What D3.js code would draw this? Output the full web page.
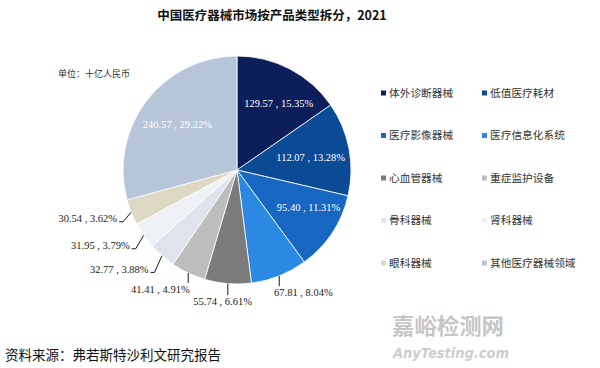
<!DOCTYPE html>
<html>
<head>
<meta charset="utf-8">
<script src="https://cdn.jsdelivr.net/npm/d3@7"></script>
<style>
  body { margin: 0; background: #fff; }
  text { font-family: "Liberation Serif", "Noto Sans CJK SC", serif; }
  .cjk { font-family: "Noto Sans CJK SC", sans-serif; }
  .wm { font-family: "DejaVu Sans", sans-serif; font-style: italic; font-weight: bold; }
</style>
</head>
<body>
<svg id="chart" width="600" height="368"></svg>
<script>
// values (十亿人民币)
var categories = ["体外诊断器械", "低值医疗耗材", "医疗影像器械", "医疗信息化系统", "心血管器械",
                  "重症监护设备", "骨科器械", "肾科器械", "眼科器械", "其他医疗器械领域"];
var values = [129.57, 112.07, 95.40, 67.81, 55.74, 41.41, 32.77, 31.95, 30.54, 246.57];
var percents = [15.35, 13.28, 11.31, 8.04, 6.61, 4.91, 3.88, 3.79, 3.62, 29.22];
var colors = ["#0d1f5a", "#0b4a94", "#1666c2", "#2b89e4", "#7b7b7b",
              "#bdbdbd", "#dfe4ec", "#eef2f6", "#dcd8c2", "#b7c5d8"];

var svg = d3.select("#chart");

svg.append("text").attr("class", "cjk")
    .attr("x", 272).attr("y", 20)
    .attr("text-anchor", "middle")
    .attr("font-size", 12.5).attr("font-weight", "bold").attr("fill", "#111")
    .text("中国医疗器械市场按产品类型拆分，2021");

svg.append("text").attr("class", "cjk")
    .attr("x", 58).attr("y", 77)
    .attr("font-size", 9).attr("fill", "#333")
    .text("单位：十亿人民币");

var cx = 237, cy = 170, radius = 114;
var g = svg.append("g").attr("transform", "translate(" + cx + "," + cy + ")");

var data = values.map(function (v, i) { return { name: categories[i], value: v, pct: percents[i] }; });
var pie = d3.pie().sort(null).value(function (d) { return d.value; });
var arcs = pie(data);
var arc = d3.arc().innerRadius(0).outerRadius(radius);

g.selectAll("path.slice").data(arcs).join("path")
    .attr("class", "slice")
    .attr("d", arc)
    .attr("fill", function (d, i) { return colors[i]; })
    .attr("stroke", "#fff")
    .attr("stroke-width", 0.8);

// is a point (relative to pie centre) inside slice a, at least m px from its straight edges?
function insideSlice(a, px, py, m) {
    var d = Math.sqrt(px * px + py * py);
    if (d > radius - 1) return false;
    var ang = Math.atan2(px, -py);
    if (ang < 0) ang += 2 * Math.PI;
    if (ang < a.startAngle || ang > a.endAngle) return false;
    var d1 = d * Math.sin(Math.min(ang - a.startAngle, Math.PI / 2));
    var d2 = d * Math.sin(Math.min(a.endAngle - ang, Math.PI / 2));
    return d1 >= m && d2 >= m;
}

var offsets = [];
for (var dx = -25; dx <= 25; dx++) for (var dy = -15; dy <= 15; dy++) offsets.push([dx, dy]);
offsets.sort(function (p, q) { return (p[0] * p[0] + p[1] * p[1]) - (q[0] * q[0] + q[1] * q[1]); });

arcs.forEach(function (a, i) {
    var mid = (a.startAngle + a.endAngle) / 2;
    var s = Math.sin(mid), c = -Math.cos(mid);
    var label = a.data.value.toFixed(2) + " , " + a.data.pct.toFixed(2) + "%";

    if (a.data.pct > 10) {
        var ti = g.append("text")
            .attr("dy", "0.35em")
            .attr("text-anchor", "middle")
            .attr("font-size", 10.5).attr("fill", "#fff")
            .text(label);
        var w2 = ti.node().getComputedTextLength() / 2, h2 = 5;
        var lx = s * 75, ly = c * 75;
        // nudge the label so that its box stays clear of the slice edges
        for (var k = 0; k < offsets.length; k++) {
            var x0 = lx + offsets[k][0], y0 = ly + offsets[k][1];
            var ok = [[-w2, -h2], [w2, -h2], [-w2, h2], [w2, h2]].every(function (p) {
                return insideSlice(a, x0 + p[0], y0 + p[1], 7);
            });
            if (ok) { lx = x0; ly = y0; break; }
        }
        ti.attr("x", lx).attr("y", ly);
        return;
    }

    // outside label with leader line
    var ex = s * radius, ey = c * radius;
    var t = g.append("text")
        .attr("font-size", 10.5).attr("fill", "#1a1a1a")
        .attr("text-anchor", "middle")
        .attr("dy", "0.35em")
        .text(label);
    var hw = t.node().getComputedTextLength() / 2, hh = 5.5;
    var bx = ex + Math.max(-(hw + 14), Math.min(hw + 14, 65 * s));
    var by = ey + 18 * c;
    t.attr("x", bx).attr("y", by);

    var pts;
    if (ex >= bx - hw && ex <= bx + hw) {
        pts = [[ex, ey], [ex, by - hh - 1]];
    } else {
        pts = [[ex, ey], [bx + hw + 6, by + 3], [bx + hw + 2, by + 3]];
    }
    g.append("path")
        .attr("d", d3.line()(pts))
        .attr("fill", "none")
        .attr("stroke", "#1a1a1a")
        .attr("stroke-width", 1);
});

// legend, two columns
var rowY = d3.scalePoint().domain(d3.range(5)).range([93, 263]);
var colX = d3.scalePoint().domain([0, 1]).range([381, 482]);

var leg = svg.selectAll("g.leg").data(categories).join("g")
    .attr("class", "leg")
    .attr("transform", function (d, i) {
        return "translate(" + colX(i % 2) + "," + rowY(Math.floor(i / 2)) + ")";
    });
leg.append("rect")
    .attr("x", 0).attr("y", -2.5).attr("width", 5).attr("height", 5)
    .attr("fill", function (d, i) { return colors[i]; });
leg.append("text").attr("class", "cjk")
    .attr("x", 8).attr("dy", "0.36em")
    .attr("font-size", 10.7).attr("fill", "#333")
    .text(function (d) { return d; });

svg.append("text").attr("class", "cjk")
    .attr("x", 5).attr("y", 360)
    .attr("font-size", 13.5).attr("fill", "#111")
    .text("资料来源：弗若斯特沙利文研究报告");

// watermark
svg.append("text").attr("class", "cjk")
    .attr("x", 392).attr("y", 334)
    .attr("font-size", 22).attr("font-weight", "bold").attr("fill", "#c6c6c6")
    .attr("textLength", 112).attr("lengthAdjust", "spacingAndGlyphs")
    .text("嘉峪检测网");
svg.append("text").attr("class", "wm")
    .attr("x", 393).attr("y", 358)
    .attr("font-size", 14).attr("fill", "#cdcdcd")
    .attr("textLength", 116).attr("lengthAdjust", "spacingAndGlyphs")
    .text("AnyTesting.com");
</script>
</body>
</html>
